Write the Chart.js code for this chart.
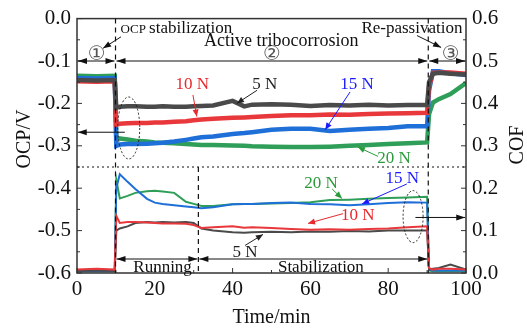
<!DOCTYPE html>
<html>
<head>
<meta charset="utf-8">
<script src="https://cdn.jsdelivr.net/npm/chart.js@4.4.0/dist/chart.umd.min.js"></script>
<style>
  html, body { margin: 0; padding: 0; background: #fff; }
  #wrap { width: 527px; height: 331px; }
</style>
</head>
<body>
<div id="wrap"><canvas id="chart"></canvas></div>
<script>
// ============= DATA =============
const time = [0, 5, 9.7, 10.1, 11, 13, 15, 18, 20, 22, 25, 28, 30, 32, 35, 40, 43, 45, 50, 55, 60, 65, 70, 75, 80, 85, 90, 90.5, 91.5, 93, 96, 100];

// OCP (V), left axis
const ocp5N  = [-0.145,-0.146,-0.145, -0.21,-0.208,-0.207,-0.207,-0.208,-0.208,-0.207,-0.208,-0.208,-0.207,-0.206,-0.205,-0.194,-0.207,-0.203,-0.202,-0.203,-0.206,-0.204,-0.205,-0.203,-0.205,-0.204,-0.204, -0.15,-0.13,-0.128,-0.13,-0.132];
const ocp10N = [-0.148,-0.149,-0.148, -0.25,-0.248,-0.247,-0.246,-0.246,-0.245,-0.245,-0.243,-0.242,-0.24,-0.238,-0.236,-0.234,-0.233,-0.232,-0.23,-0.228,-0.228,-0.226,-0.227,-0.225,-0.224,-0.223,-0.222, -0.16,-0.128,-0.127,-0.127,-0.13];
const ocp15N = [-0.14,-0.141,-0.14, -0.3,-0.297,-0.296,-0.296,-0.295,-0.294,-0.293,-0.29,-0.286,-0.283,-0.28,-0.278,-0.272,-0.27,-0.268,-0.262,-0.26,-0.26,-0.265,-0.262,-0.26,-0.258,-0.254,-0.254, -0.17,-0.124,-0.124,-0.129,-0.133];
const ocp20N = [-0.135,-0.136,-0.135, -0.28,-0.283,-0.285,-0.288,-0.29,-0.292,-0.293,-0.294,-0.296,-0.297,-0.298,-0.298,-0.299,-0.3,-0.301,-0.302,-0.303,-0.303,-0.302,-0.3,-0.298,-0.296,-0.294,-0.292, -0.225,-0.198,-0.19,-0.178,-0.152];

// COF, right axis
const cof5N  = [0.005,0.006,0.005, 0.1,0.105,0.11,0.118,0.12,0.119,0.12,0.119,0.12,0.118,0.105,0.1,0.096,0.095,0.096,0.097,0.096,0.098,0.097,0.099,0.098,0.1,0.1,0.1, 0.008,0.01,0.012,0.02,0.008];
const cof10N = [0.008,0.01,0.008, 0.135,0.118,0.12,0.12,0.119,0.118,0.117,0.117,0.116,0.113,0.106,0.108,0.11,0.107,0.108,0.106,0.104,0.102,0.103,0.102,0.104,0.105,0.108,0.11, 0.012,0.008,0.01,0.01,0.008];
const cof15N = [0.004,0.004,0.004, 0.2,0.233,0.215,0.198,0.175,0.166,0.163,0.16,0.157,0.155,0.153,0.155,0.162,0.163,0.163,0.165,0.166,0.163,0.162,0.16,0.162,0.165,0.167,0.166, 0.008,0.006,0.006,0.006,0.006];
const cof20N = [0.004,0.004,0.004, 0.22,0.176,0.182,0.189,0.193,0.194,0.192,0.189,0.168,0.163,0.158,0.158,0.162,0.163,0.163,0.164,0.165,0.167,0.172,0.173,0.175,0.177,0.178,0.18, 0.006,0.004,0.004,0.004,0.004];

const xTicks = [0, 20, 40, 60, 80, 100];

const COLORS = { n5: '#4a4a4a', n10: '#e8383c', n15: '#1f6fd8', n20: '#2e9e58' };
const TEXT_COLORS = { n5: '#222', n10: '#e8282c', n15: '#1a1aff', n20: '#2a9a3a' };
const SERIF = '"Liberation Serif", "Times New Roman", serif';

const pts = arr => time.map((t, i) => ({ x: t, y: arr[i] }));

// ============= ANNOTATION PLUGIN =============
function arrowHead(ctx, x1, y1, x2, y2, len, half) {
  const a = Math.atan2(y2 - y1, x2 - x1);
  ctx.beginPath();
  ctx.moveTo(x2, y2);
  ctx.lineTo(x2 - len * Math.cos(a) + half * Math.sin(a), y2 - len * Math.sin(a) - half * Math.cos(a));
  ctx.lineTo(x2 - len * Math.cos(a) - half * Math.sin(a), y2 - len * Math.sin(a) + half * Math.cos(a));
  ctx.closePath();
  ctx.fill();
}
function arrow(ctx, x1, y1, x2, y2, color, len = 8, half = 3) {
  ctx.strokeStyle = color; ctx.fillStyle = color; ctx.lineWidth = 1;
  ctx.beginPath(); ctx.moveTo(x1, y1); ctx.lineTo(x2, y2); ctx.stroke();
  arrowHead(ctx, x1, y1, x2, y2, len, half);
}
function dblArrow(ctx, x1, y, x2, color) {
  arrow(ctx, x1, y, x2, y, color, 9, 3);
  arrowHead(ctx, x2, y, x1, y, 9, 3);
}

const annotations = {
  id: 'annotations',
  afterDraw(chart) {
    const ctx = chart.ctx;
    const xs = chart.scales.x, ys = chart.scales.y;
    const X = v => xs.getPixelForValue(v), Y = v => ys.getPixelForValue(v);
    const a = chart.chartArea;
    ctx.save();

    // frame
    ctx.strokeStyle = '#333'; ctx.lineWidth = 1.5;
    ctx.strokeRect(a.left, a.top, a.right - a.left, a.bottom - a.top);

    // inward ticks
    ctx.lineWidth = 1; ctx.strokeStyle = '#333';
    for (let v = 0; v <= 100; v += 10) {
      const len = v % 20 === 0 ? 5 : 3;
      ctx.beginPath(); ctx.moveTo(X(v), a.bottom); ctx.lineTo(X(v), a.bottom - len); ctx.stroke();
    }
    for (let k = 0; k <= 12; k++) {
      const v = -0.6 + k * 0.05, len = k % 2 === 0 ? 5 : 3;
      ctx.beginPath(); ctx.moveTo(a.left, Y(v)); ctx.lineTo(a.left + len, Y(v)); ctx.stroke();
      ctx.beginPath(); ctx.moveTo(a.right, Y(v)); ctx.lineTo(a.right - len, Y(v)); ctx.stroke();
    }

    // dashed / dotted guide lines
    ctx.strokeStyle = '#111'; ctx.lineWidth = 1.2;
    ctx.setLineDash([5, 4]);
    [9.9, 90.3].forEach(t => { ctx.beginPath(); ctx.moveTo(X(t), a.top); ctx.lineTo(X(t), a.bottom); ctx.stroke(); });
    ctx.beginPath(); ctx.moveTo(X(31.2), Y(-0.35)); ctx.lineTo(X(31.2), a.bottom); ctx.stroke();
    ctx.setLineDash([2, 3]); ctx.lineWidth = 1;
    ctx.beginPath(); ctx.moveTo(a.left, Y(-0.35)); ctx.lineTo(a.right, Y(-0.35)); ctx.stroke();
    ctx.setLineDash([]);

    // stage arrows (top)
    dblArrow(ctx, X(0) + 1, Y(-0.1), X(9.9) - 1, '#111');
    dblArrow(ctx, X(9.9) + 1, Y(-0.1), X(90.3) - 1, '#111');
    dblArrow(ctx, X(90.3) + 1, Y(-0.1), X(100) - 1, '#111');
    // stage arrows (bottom)
    dblArrow(ctx, X(9.9) + 1, Y(-0.567), X(31.2) - 1, '#111');
    dblArrow(ctx, X(31.2) + 1, Y(-0.567), X(90.3) - 1, '#111');

    // circled stage numbers
    ctx.fillStyle = '#555'; ctx.textAlign = 'center'; ctx.textBaseline = 'middle';
    ctx.font = '20px "DejaVu Sans", "Noto Sans CJK SC", sans-serif';
    ctx.fillText('①', X(5.1), Y(-0.086));
    ctx.fillText('②', X(50.1), Y(-0.086));
    ctx.fillText('③', X(96.1), Y(-0.086));

    // stage texts
    ctx.fillStyle = '#111'; ctx.textBaseline = 'alphabetic';
    ctx.textAlign = 'left';
    ctx.font = '13px ' + SERIF;
    ctx.fillText('OCP', X(11.2), Y(-0.035));
    const w = ctx.measureText('OCP ').width;
    ctx.font = '17px ' + SERIF;
    ctx.fillText('stabilization', X(11.2) + w, Y(-0.035));
    ctx.textAlign = 'center';
    ctx.font = '18px ' + SERIF;
    ctx.fillText('Active tribocorrosion', X(52.5), Y(-0.064));
    ctx.font = '17px ' + SERIF;
    ctx.fillText('Re-passivation', X(86.1), Y(-0.033));
    ctx.fillText('Running', X(22), Y(-0.598));
    ctx.fillText('Stabilization', X(62.7), Y(-0.597));
    arrow(ctx, X(11.3), Y(-0.043), X(6.7), Y(-0.07), '#111');
    arrow(ctx, X(87.4), Y(-0.04), X(93.6), Y(-0.068), '#111');

    // series labels
    const lab = (txt, col, tx, ty, x1, y1, x2, y2) => {
      ctx.fillStyle = col; ctx.font = '17px ' + SERIF; ctx.textAlign = 'center';
      ctx.fillText(txt, X(tx), Y(ty));
      arrow(ctx, X(x1), Y(y1), X(x2), Y(y2), col, 7, 3);
    };
    lab('10 N', TEXT_COLORS.n10, 29.6, -0.166, 29.8, -0.18, 30.8, -0.231);
    lab('5 N', TEXT_COLORS.n5, 48.3, -0.166, 46.3, -0.169, 41.1, -0.2);
    lab('15 N', TEXT_COLORS.n15, 72, -0.166, 70.2, -0.173, 63.8, -0.262);
    lab('20 N', TEXT_COLORS.n20, 81.5, -0.341, 77.4, -0.325, 72.2, -0.303);
    lab('20 N', TEXT_COLORS.n20, 62.7, -0.4, 65.6, -0.402, 68.1, -0.424);
    lab('15 N', TEXT_COLORS.n15, 83.6, -0.388, 84.8, -0.39, 73.3, -0.437);
    lab('10 N', TEXT_COLORS.n10, 72.2, -0.476, 68.4, -0.46, 59.4, -0.483);
    lab('5 N', TEXT_COLORS.n5, 43.2, -0.563, 43.2, -0.535, 47.8, -0.509);

    // dotted ellipses with pointing arrows
    ctx.strokeStyle = '#222'; ctx.lineWidth = 1; ctx.setLineDash([2, 2]);
    ctx.beginPath(); ctx.ellipse(X(13.3), Y(-0.258), 11, 31, 0, 0, Math.PI * 2); ctx.stroke();
    ctx.beginPath(); ctx.ellipse(X(86.4), Y(-0.467), 10, 26, 0, 0, Math.PI * 2); ctx.stroke();
    ctx.setLineDash([]);
    arrow(ctx, X(12.3), Y(-0.268), X(0.2), Y(-0.268), '#111', 9, 3);
    arrow(ctx, X(87), Y(-0.469), X(99.8), Y(-0.469), '#111', 9, 3);

    // axis titles
    ctx.fillStyle = '#111'; ctx.font = '20px ' + SERIF; ctx.textAlign = 'center'; ctx.textBaseline = 'middle';
    ctx.save(); ctx.translate(25, 139); ctx.rotate(-Math.PI / 2); ctx.fillText('OCP/V', 0, 0); ctx.restore();
    ctx.save(); ctx.translate(518, 145); ctx.rotate(-Math.PI / 2); ctx.fillText('COF', 0, 0); ctx.restore();
    ctx.fillText('Time/min', (a.left + a.right) / 2, 318);

    ctx.restore();
  }
};

// ============= CHART =============
const ocpLine = (label, arr, color) => ({
  label, data: pts(arr), yAxisID: 'y', borderColor: color, borderWidth: 4.5,
  pointRadius: 0, tension: 0, fill: false
});
const cofLine = (label, arr, color) => ({
  label, data: pts(arr), yAxisID: 'y1', borderColor: color, borderWidth: 2,
  pointRadius: 0, tension: 0, fill: false
});

const tickFont = { family: SERIF, size: 21 };

new Chart(document.getElementById('chart'), {
  type: 'line',
  data: {
    datasets: [
      ocpLine('OCP 5 N', ocp5N, COLORS.n5),
      ocpLine('OCP 10 N', ocp10N, COLORS.n10),
      ocpLine('OCP 15 N', ocp15N, COLORS.n15),
      ocpLine('OCP 20 N', ocp20N, COLORS.n20),
      cofLine('COF 10 N', cof10N, COLORS.n10),
      cofLine('COF 5 N', cof5N, COLORS.n5),
      cofLine('COF 15 N', cof15N, COLORS.n15),
      cofLine('COF 20 N', cof20N, COLORS.n20)
    ]
  },
  options: {
    responsive: true,
    maintainAspectRatio: false,
    animation: false,
    layout: { padding: { top: 16, left: 0, right: 0, bottom: 0 } },
    plugins: { legend: { display: false }, tooltip: { enabled: false } },
    scales: {
      x: {
        type: 'linear', min: 0, max: 100,
        afterBuildTicks: s => { s.ticks = xTicks.map(v => ({ value: v })); },
        afterFit: s => { s.height = 58; },
        grid: { display: false, drawTicks: false }, border: { display: false },
        ticks: { font: tickFont, color: '#111', padding: 4, maxRotation: 0 }
      },
      y: {
        position: 'left', min: -0.6, max: 0.0,
        afterFit: s => { s.width = 77; },
        grid: { display: false, drawTicks: false }, border: { display: false },
        ticks: { stepSize: 0.1, font: tickFont, color: '#111', padding: 6,
                 callback: v => v.toFixed(1) }
      },
      y1: {
        position: 'right', min: 0.0, max: 0.6,
        afterFit: s => { s.width = 61; },
        grid: { display: false, drawTicks: false }, border: { display: false },
        ticks: { stepSize: 0.1, font: tickFont, color: '#111', padding: 6,
                 callback: v => v.toFixed(1) }
      }
    }
  },
  plugins: [annotations]
});
</script>
</body>
</html>
